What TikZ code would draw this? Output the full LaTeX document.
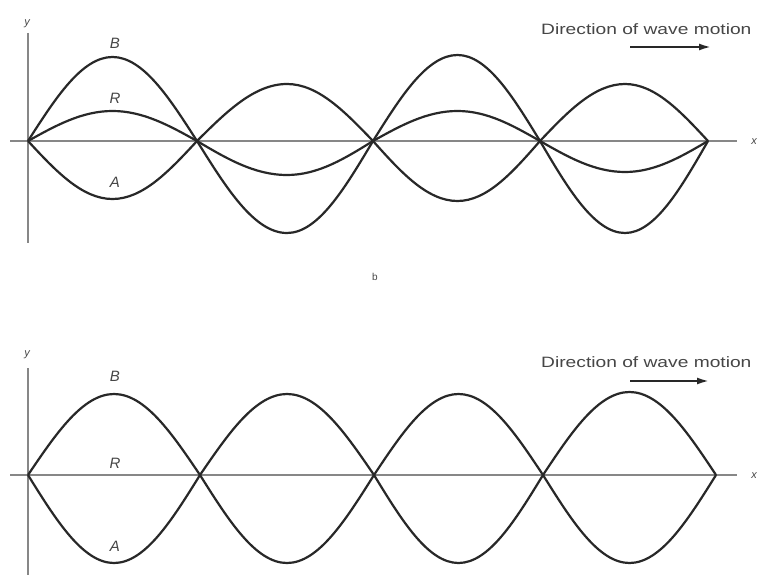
\documentclass[tikz,border=0pt]{standalone}
\usepackage{fontspec}
\setmainfont{Liberation Sans}
\newfontfamily\widesans[FakeStretch=1.28]{Liberation Sans}
\usepackage{xcolor}
\definecolor{waveink}{RGB}{40,40,40}
\definecolor{axisgray}{RGB}{135,135,135}
\definecolor{labelgray}{RGB}{70,70,70}
\usepackage{tikz}
\usetikzlibrary{arrows.meta}

\begin{document}
\begin{tikzpicture}[
  x=1pt, y=-1pt,
  wave/.style={draw=waveink, line width=2.2pt, line join=round},
  axis/.style={draw=axisgray, line width=1.1pt},
  curvelabel/.style={font=\fontsize{15}{15}\selectfont\itshape, text=labelgray, inner sep=0pt},
  axislabel/.style={font=\fontsize{11}{11}\selectfont\itshape, text=labelgray, inner sep=0pt},
  caption/.style={font=\fontsize{15}{15}\selectfont\widesans, text=labelgray, inner sep=0pt, anchor=base west},
  motion/.style={-{Latex[length=12pt, width=7pt]}, line width=2pt, waveink}
]
\fill[white] (0,0) rectangle (759,575);
\clip (0,0) rectangle (759,575);

\draw[axis] (28,33) -- (28,243);
\draw[axis] (10,141) -- (737,141);
\draw[wave] (28,141) sin (112.5,57) cos (197,141) sin (287,233) cos (373,141) sin (457.5,55) cos (540,141) sin (625,233) cos (708,141);
\draw[wave] (28,141) sin (112.5,199) cos (197,141) sin (287,84) cos (373,141) sin (457.5,201) cos (540,141) sin (625,84) cos (708,141);
\draw[wave] (28,141) sin (112.5,111) cos (197,141) sin (287,175) cos (373,141) sin (457.5,111) cos (540,141) sin (625,172) cos (708,141);

\node[axislabel] (ytop) at (27,24) {y};
\node[axislabel] (xtop) at (754,142) {x};
\node[curvelabel] (btop) at (115,43) {B};
\node[curvelabel] (rtop) at (115,98) {R};
\node[curvelabel] (atop) at (115,182) {A};
\node[caption] (dirtop) at (541,35) {Direction of wave motion};
\coordinate (tailtop) at (630,47);
\coordinate (headtop) at (711,47);
\draw[motion] (tailtop) -- (headtop);

\node[font=\fontsize{10}{10}\selectfont, text=labelgray, inner sep=0pt] (panelb) at (375,277) {b};

\draw[axis] (28,368) -- (28,575);
\draw[axis] (10,475) -- (737,475);
\draw[wave] (28,475) sin (114,394) cos (200,475) sin (287,394) cos (374,475) sin (458.5,394) cos (543,475) sin (629.5,392) cos (716,475);
\draw[wave] (28,475) sin (114,563) cos (200,475) sin (287,563) cos (374,475) sin (458.5,563) cos (543,475) sin (629.5,563) cos (716,475);

\node[axislabel] (ylow) at (27,355) {y};
\node[axislabel] (xlow) at (754,476) {x};
\node[curvelabel] (blow) at (115,376) {B};
\node[curvelabel] (rlow) at (115,463) {R};
\node[curvelabel] (alow) at (115,546) {A};
\node[caption] (dirlow) at (541,367) {Direction of wave motion};
\coordinate (taillow) at (630,381);
\coordinate (headlow) at (709,381);
\draw[motion] (taillow) -- (headlow);
\end{tikzpicture}
\end{document}
